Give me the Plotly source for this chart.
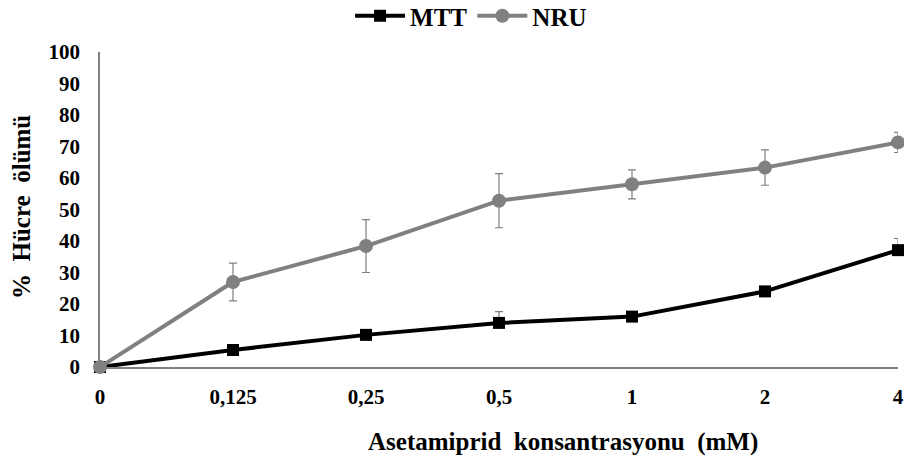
import plotly.graph_objects as go

categories = ["0", "0,125", "0,25", "0,5", "1", "2", "4"]
mtt = [0, 5.4, 10.2, 14.0, 16.0, 24.0, 37.1]
mtt_err_plus = [0, 0, 0, 3.6, 0, 0, 3.7]
nru = [0, 27.0, 38.4, 52.8, 58.0, 63.3, 71.3]
nru_err = [0, 6.0, 8.4, 8.6, 4.6, 5.6, 3.2]
y_ticks = list(range(0, 101, 10))

xi = list(range(len(categories)))
FONT = "'Liberation Serif', 'Times New Roman', Times, serif"

fig = go.Figure()
fig.add_trace(go.Scatter(
    x=xi, y=mtt, name="<b>MTT</b>", mode="lines+markers",
    line=dict(color="#000000", width=4),
    marker=dict(symbol="square", size=12, color="#000000"),
    error_y=dict(type="data", symmetric=False, array=mtt_err_plus,
                 arrayminus=[0] * len(mtt), color="#7f7f7f", thickness=1.2, width=4),
    cliponaxis=False,
))
fig.add_trace(go.Scatter(
    x=xi, y=nru, name="<b>NRU</b>", mode="lines+markers",
    line=dict(color="#808080", width=4),
    marker=dict(symbol="circle", size=14, color="#808080"),
    error_y=dict(type="data", array=nru_err, color="#7f7f7f", thickness=1.2, width=4),
    cliponaxis=False,
))

fig.update_layout(
    width=904, height=463,
    margin=dict(l=100, r=6, t=52, b=96, autoexpand=False),
    paper_bgcolor="white", plot_bgcolor="white",
    font=dict(family=FONT, color="#000000", size=16),
    legend=dict(orientation="h", x=0.465, xanchor="center", y=(367 - 16) / 315,
                yanchor="middle", yref="paper", font=dict(size=25, family=FONT),
                itemwidth=50, traceorder="normal", tracegroupgap=0),
    showlegend=True,
    xaxis=dict(
        range=[0, 6], tickvals=xi,
        ticktext=["<b>%s</b>" % c for c in categories],
        showline=True, linecolor="#808080", linewidth=1.5,
        showgrid=False, zeroline=False, ticks="",
        tickfont=dict(size=21, family=FONT), ticklabelstandoff=10,
    ),
    yaxis=dict(
        range=[0, 100], tickvals=y_ticks,
        ticktext=["<b>%d</b>" % v for v in y_ticks],
        showline=True, linecolor="#808080", linewidth=1.5,
        showgrid=False, zeroline=False, ticks="",
        tickfont=dict(size=21, family=FONT), ticklabelstandoff=14,
    ),
    annotations=[
        dict(text="<b>Asetamiprid  konsantrasyonu  (mM)</b>", xref="paper", yref="paper",
             x=(563 - 100) / 798, y=-(442 - 367) / 315, xanchor="center", yanchor="middle",
             showarrow=False, font=dict(size=25, family=FONT)),
        dict(text="<b>%  Hücre  ölümü</b>", xref="paper", yref="paper",
             x=-(100 - 21) / 798, y=(367 - 207) / 315, xanchor="center", yanchor="middle",
             textangle=-90, showarrow=False, font=dict(size=25, family=FONT)),
    ],
)

fig.write_html("out.html")
